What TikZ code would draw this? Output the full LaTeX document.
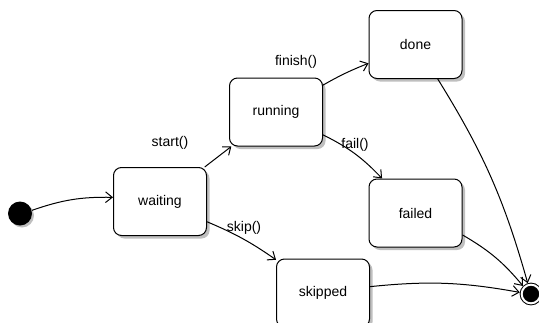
\documentclass[tikz,border=0pt]{standalone}
\usepackage{fontspec}
\setmainfont{Liberation Sans}
\usetikzlibrary{arrows.meta,shadows}

\tikzset{every picture/.style={line width=0.75pt}}
\tikzset{
  state/.style={draw, rectangle, rounded corners=6pt, fill=white, minimum width=69.75pt, minimum height=51pt, inner sep=0pt, font=\fontsize{10.5}{12}\selectfont, drop shadow={shadow xshift=2.25pt, shadow yshift=-2.25pt, fill=black!25, opacity=1}},
  trans/.style={-{Straight Barb[length=5pt,width=8pt]}},
  lbl/.style={inner sep=0.75pt, font=\fontsize{10.5}{12}\selectfont}
}

\begin{document}
\begin{tikzpicture}[x=0.75pt,y=0.75pt,yscale=-1,xscale=1]
\useasboundingbox (0,0) rectangle (539,322);

%Initial and final
\node [circle, fill=black, minimum size=18pt, inner sep=0pt, drop shadow={shadow xshift=1.5pt, shadow yshift=-1.5pt, fill=black!25, opacity=1}] (init) at (20,213.5) {};
\node [circle, draw, fill=black, double=white, double distance=1.5pt, minimum size=14pt, inner sep=0pt, outer sep=1.5pt] (final) at (531,294) {};

%States
\node [state] (waiting) at (160,201.5) {waiting};
\node [state] (running) at (276,112) {running};
\node [state] (done) at (415.5,44.5) {done};
\node [state] (failed) at (415.5,213) {failed};
\node [state] (skipped) at (323,293) {skipped};

%Transitions (yscale=-1 mirrors the bends)
\draw [trans] (init) to [bend right=10] (waiting);
\draw [trans] (waiting) -- (running);
\draw [trans] (running) to [bend right=4] (done);
\draw [trans] (running) to [bend right=10] (failed);
\draw [trans] (waiting) to [bend right=6] (skipped);
\draw [trans] (done) to [bend right=8] (final);
\draw [trans] (failed) to [bend right=10] (final);
\draw [trans] (skipped) to [bend right=8] (final);

% Text Node
\node [lbl] (lblstart) at (170,143) {start()};
% Text Node
\node [lbl] (lblfinish) at (296,62) {finish()};
% Text Node
\node [lbl] (lblfail) at (355,145) {fail()};
% Text Node
\node [lbl] (lblskip) at (244,228) {skip()};

\end{tikzpicture}
\end{document}
